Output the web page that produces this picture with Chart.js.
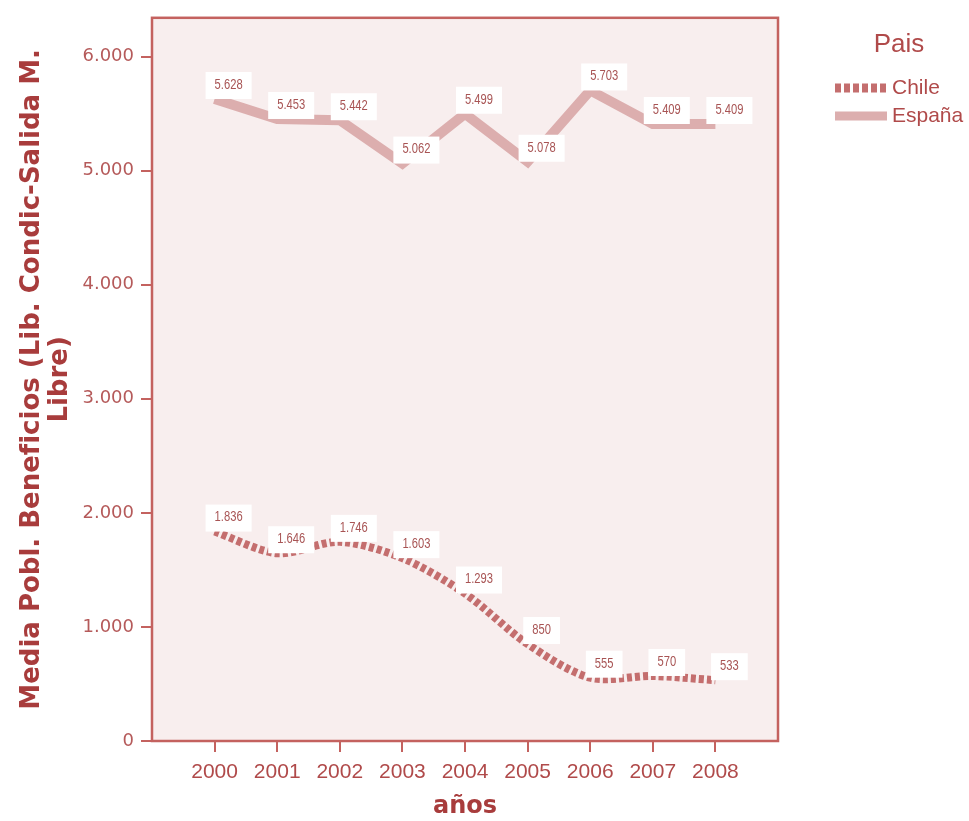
<!DOCTYPE html>
<html lang="es">
<head>
  <meta charset="UTF-8">
  <title>Media Pobl. Beneficios</title>
  <script src="https://cdn.jsdelivr.net/npm/chart.js"></script>
  <style>
    body { margin: 0; background: #fff; }
    #chart-container { width: 969px; height: 821px; }
  </style>
</head>
<body>
  <div id="chart-container">
    <canvas id="lineChart" width="969" height="821"></canvas>
  </div>

  <script>
    const years = [2000, 2001, 2002, 2003, 2004, 2005, 2006, 2007, 2008];
    const chile = [1836, 1646, 1746, 1603, 1293, 850, 555, 570, 533];
    const espana = [5628, 5453, 5442, 5062, 5499, 5078, 5703, 5409, 5409];
    const yTicks = [0, 1000, 2000, 3000, 4000, 5000, 6000];

    const red = '#b04a4a';
    const frame = '#c4625f';
    const fmt = v => String(v).replace(/\B(?=(\d{3})+(?!\d))/g, '.');

    const plotFrame = {
      id: 'plotFrame',
      beforeDraw(chart) {
        const { ctx, chartArea: a } = chart;
        ctx.save();
        ctx.fillStyle = '#f8eeee';
        ctx.fillRect(a.left, a.top, a.width, a.height);
        ctx.strokeStyle = frame;
        ctx.lineWidth = 2.5;
        ctx.strokeRect(a.left, a.top, a.width, a.height);
        ctx.restore();
      }
    };

    // white value boxes, text a bit condensed like the original
    const pointLabels = {
      id: 'pointLabels',
      afterDatasetsDraw(chart) {
        const ctx = chart.ctx;
        chart.data.datasets.forEach((ds, di) => {
          chart.getDatasetMeta(di).data.forEach((pt, i) => {
            const txt = fmt(ds.data[i].y);
            const x = pt.x + 14, y = pt.y - 14;
            ctx.save();
            ctx.font = '14px "Liberation Sans", Arial';
            const w = ctx.measureText(txt).width * 0.8 + 18;
            ctx.fillStyle = '#fff';
            ctx.fillRect(x - w / 2, y - 13, w, 27);
            ctx.translate(x, y);
            ctx.scale(0.8, 1);
            ctx.textAlign = 'center';
            ctx.textBaseline = 'middle';
            ctx.fillStyle = '#a85454';
            ctx.fillText(txt, 0, 0);
            ctx.restore();
          });
        });
      }
    };

    const sideLegend = {
      id: 'sideLegend',
      afterDraw(chart) {
        const ctx = chart.ctx;
        ctx.save();
        ctx.fillStyle = red;
        ctx.textBaseline = 'middle';
        ctx.font = '26px "Liberation Sans", Arial';
        ctx.textAlign = 'center';
        ctx.fillText('Pais', 899, 45);
        ctx.textAlign = 'left';
        ctx.font = '21px "Liberation Sans", Arial';
        // Chile
        ctx.strokeStyle = '#c46e6e';
        ctx.lineWidth = 9;
        ctx.setLineDash([6, 3]);
        ctx.beginPath(); ctx.moveTo(835, 88); ctx.lineTo(887, 88); ctx.stroke();
        ctx.setLineDash([]);
        ctx.fillText('Chile', 892, 88);
        // España
        ctx.strokeStyle = '#dcaeae';
        ctx.beginPath(); ctx.moveTo(835, 116); ctx.lineTo(887, 116); ctx.stroke();
        ctx.fillText('España', 892, 116);
        ctx.restore();
      }
    };

    new Chart(document.getElementById('lineChart'), {
      type: 'line',
      data: {
        datasets: [
          {
            label: 'Chile',
            data: years.map((y, i) => ({ x: y, y: chile[i] })),
            borderColor: '#c46e6e',
            borderWidth: 8,
            borderDash: [5, 3],
            tension: 0.3,
            pointRadius: 0
          },
          {
            label: 'España',
            data: years.map((y, i) => ({ x: y, y: espana[i] })),
            borderColor: '#dcaeae',
            borderWidth: 10,
            tension: 0,
            pointRadius: 0
          }
        ]
      },
      options: {
        responsive: false,
        animation: false,
        layout: { padding: { top: 15, right: 191, left: 0, bottom: 0 } },
        plugins: { legend: { display: false }, tooltip: { enabled: false } },
        scales: {
          x: {
            type: 'linear',
            min: 1999,
            max: 2009,
            afterBuildTicks: s => { s.ticks = years.map(v => ({ value: v })); },
            afterFit: s => { s.height = 80; },
            border: { display: false },
            grid: { drawOnChartArea: false, color: frame, lineWidth: 2, tickLength: 11 },
            ticks: {
              color: red, padding: 8,
              font: { family: '"Liberation Sans", Arial', size: 21 },
              callback: v => String(v)
            },
            title: {
              display: true, text: 'años', color: '#a83c3c', padding: { top: 0, bottom: 0 },
              font: { family: '"DejaVu Sans", sans-serif', size: 24, weight: 'bold' }
            }
          },
          y: {
            min: 0,
            max: 6340,
            afterBuildTicks: s => { s.ticks = yTicks.map(v => ({ value: v })); },
            afterFit: s => { s.width = 152; },
            border: { display: false },
            grid: { drawOnChartArea: false, color: frame, lineWidth: 2, tickLength: 11 },
            ticks: {
              color: '#b55a5a', padding: 7,
              font: { family: '"DejaVu Sans", sans-serif', size: 18 },
              callback: v => fmt(v)
            },
            title: {
              display: true,
              text: ['Media Pobl. Beneficios (Lib. Condic-Salida M.', 'Libre)'],
              color: '#a83c3c', padding: { top: 18, bottom: 0 },
              font: { family: '"DejaVu Sans", sans-serif', size: 26, weight: 'bold', lineHeight: 1.08 }
            }
          }
        }
      },
      plugins: [plotFrame, pointLabels, sideLegend]
    });
  </script>
</body>
</html>
